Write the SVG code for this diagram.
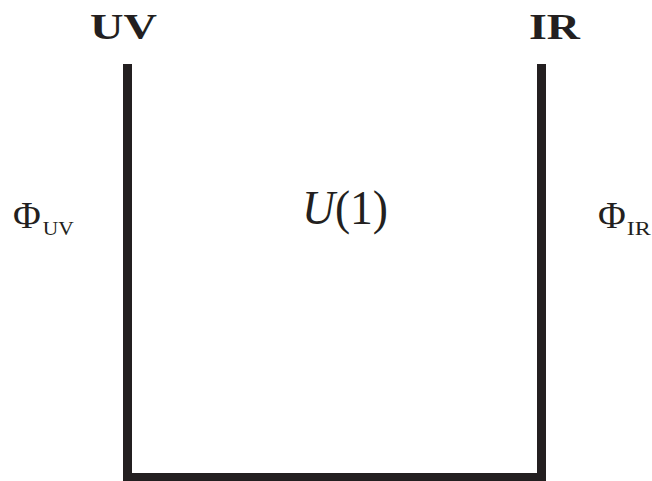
<svg xmlns="http://www.w3.org/2000/svg" width="652" height="481" viewBox="0 0 652 481">
<style>
.t{font-family:"Liberation Serif","DejaVu Serif",serif;fill:#231f20}
.b{font-weight:bold;font-size:36px}
.phi{font-size:38px}
.sub{font-size:19px}
</style>
<rect width="652" height="481" fill="#fff"/>
<g id="connectors">
<path d="M127.5,64 V477.5 H541.5 V64" fill="none" stroke="#231f20" stroke-width="9" stroke-linejoin="miter"/>
</g>
<g id="uv-label"><text class="t b" x="90" y="39" textLength="67" lengthAdjust="spacingAndGlyphs">UV</text></g>
<g id="ir-label"><text class="t b" x="529" y="39" textLength="51" lengthAdjust="spacingAndGlyphs">IR</text></g>
<g id="phi-uv"><text class="t phi" x="13" y="228">Φ<tspan class="sub" dy="7" dx="2" textLength="31" lengthAdjust="spacingAndGlyphs">UV</tspan></text></g>
<g id="phi-ir"><text class="t phi" x="598" y="228">Φ<tspan class="sub" dy="7" dx="1" textLength="24" lengthAdjust="spacingAndGlyphs">IR</tspan></text></g>
<g id="u1"><text class="t" x="302" y="224" font-size="48" textLength="86" lengthAdjust="spacingAndGlyphs"><tspan font-style="italic">U</tspan>(1)</text></g>
</svg>
